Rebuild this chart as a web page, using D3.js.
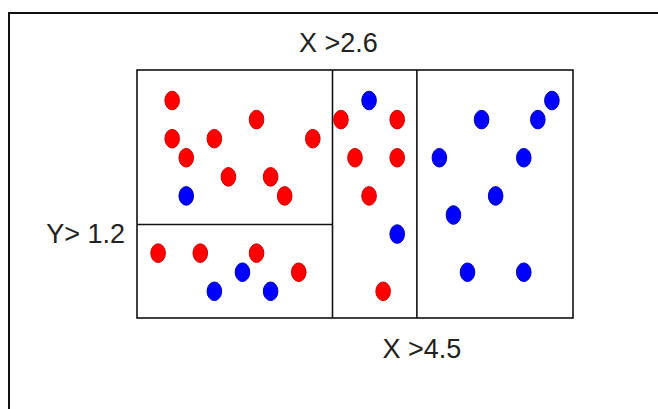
<!DOCTYPE html>
<html>
<head>
<meta charset="utf-8">
<script src="https://cdn.jsdelivr.net/npm/d3@7"></script>
<style>
  body { margin: 0; background: #fff; }
  text { font-family: "Liberation Sans", Arial, sans-serif; fill: #222; }
</style>
</head>
<body>
<svg id="chart" width="658" height="409"></svg>
<script>
// points (x, y in chart units)
var redX = [2.5, 8.5, 2.5, 5.5, 12.5, 14.5, 3.5, 6.5, 9.5, 10.5, 1.5, 4.5, 8.5, 11.5, 18.5, 15.5, 18.5, 16.5, 17.5];
var redY = [11.4, 10.4, 9.4, 9.4, 9.4, 10.4, 8.4, 7.4, 7.4, 6.4, 3.4, 3.4, 3.4, 2.4, 10.4, 8.4, 8.4, 6.4, 1.4];
var blueX = [3.5, 7.5, 5.5, 9.5, 16.5, 18.5, 29.5, 24.5, 28.5, 21.5, 27.5, 25.5, 22.5, 23.5, 27.5];
var blueY = [6.4, 2.4, 1.4, 1.4, 11.4, 4.4, 11.4, 10.4, 10.4, 8.4, 8.4, 6.4, 5.4, 2.4, 2.4];

// split rules
var splitX = [13.9, 19.9];
var splitY = 4.9;
var splitXLabels = ["X >2.6", "X >4.5"];
var splitYLabel = "Y> 1.2";

var svg = d3.select("#chart");

// outer frame (cut off on right and bottom)
svg.append("rect")
  .attr("x", 9).attr("y", 13)
  .attr("width", 700).attr("height", 450)
  .attr("fill", "none").attr("stroke", "#111").attr("stroke-width", 2);

var x = d3.scaleLinear().domain([0, 31]).range([137, 573]);
var y = d3.scaleLinear().domain([0, 13]).range([318, 70]);

var box = svg.append("g");
box.append("rect")
  .attr("x", x(0)).attr("y", y(13))
  .attr("width", x(31) - x(0)).attr("height", y(0) - y(13))
  .attr("fill", "none").attr("stroke", "#111").attr("stroke-width", 1.6);

box.selectAll("line.sx")
  .data(splitX)
  .enter().append("line")
  .attr("class", "sx")
  .attr("x1", function (d) { return x(d); })
  .attr("x2", function (d) { return x(d); })
  .attr("y1", y(13)).attr("y2", y(0))
  .attr("stroke", "#111").attr("stroke-width", 1.6);

box.append("line")
  .attr("x1", x(0)).attr("x2", x(splitX[0]))
  .attr("y1", y(splitY)).attr("y2", y(splitY))
  .attr("stroke", "#111").attr("stroke-width", 1.6);

var reds = redX.map(function (v, i) { return {x: v, y: redY[i]}; });
var blues = blueX.map(function (v, i) { return {x: v, y: blueY[i]}; });

function dots(data, fill, edge) {
  svg.append("g").selectAll("ellipse")
    .data(data)
    .enter().append("ellipse")
    .attr("cx", function (d) { return x(d.x); })
    .attr("cy", function (d) { return y(d.y); })
    .attr("rx", 7.3).attr("ry", 9.3)
    .attr("fill", fill)
    .attr("stroke", edge).attr("stroke-width", 1);
}
dots(reds, "#f00", "#c00");
dots(blues, "#00f", "#00b");

// labels
svg.append("text")
  .attr("x", x(splitX[0]) + 6).attr("y", 52)
  .attr("text-anchor", "middle").attr("font-size", 27)
  .text(splitXLabels[0]);

svg.append("text")
  .attr("x", x(splitX[1]) + 5).attr("y", 358)
  .attr("text-anchor", "middle").attr("font-size", 27)
  .text(splitXLabels[1]);

svg.append("text")
  .attr("x", x(0) - 12).attr("y", y(splitY) + 18)
  .attr("text-anchor", "end").attr("font-size", 27)
  .text(splitYLabel);
</script>
</body>
</html>
